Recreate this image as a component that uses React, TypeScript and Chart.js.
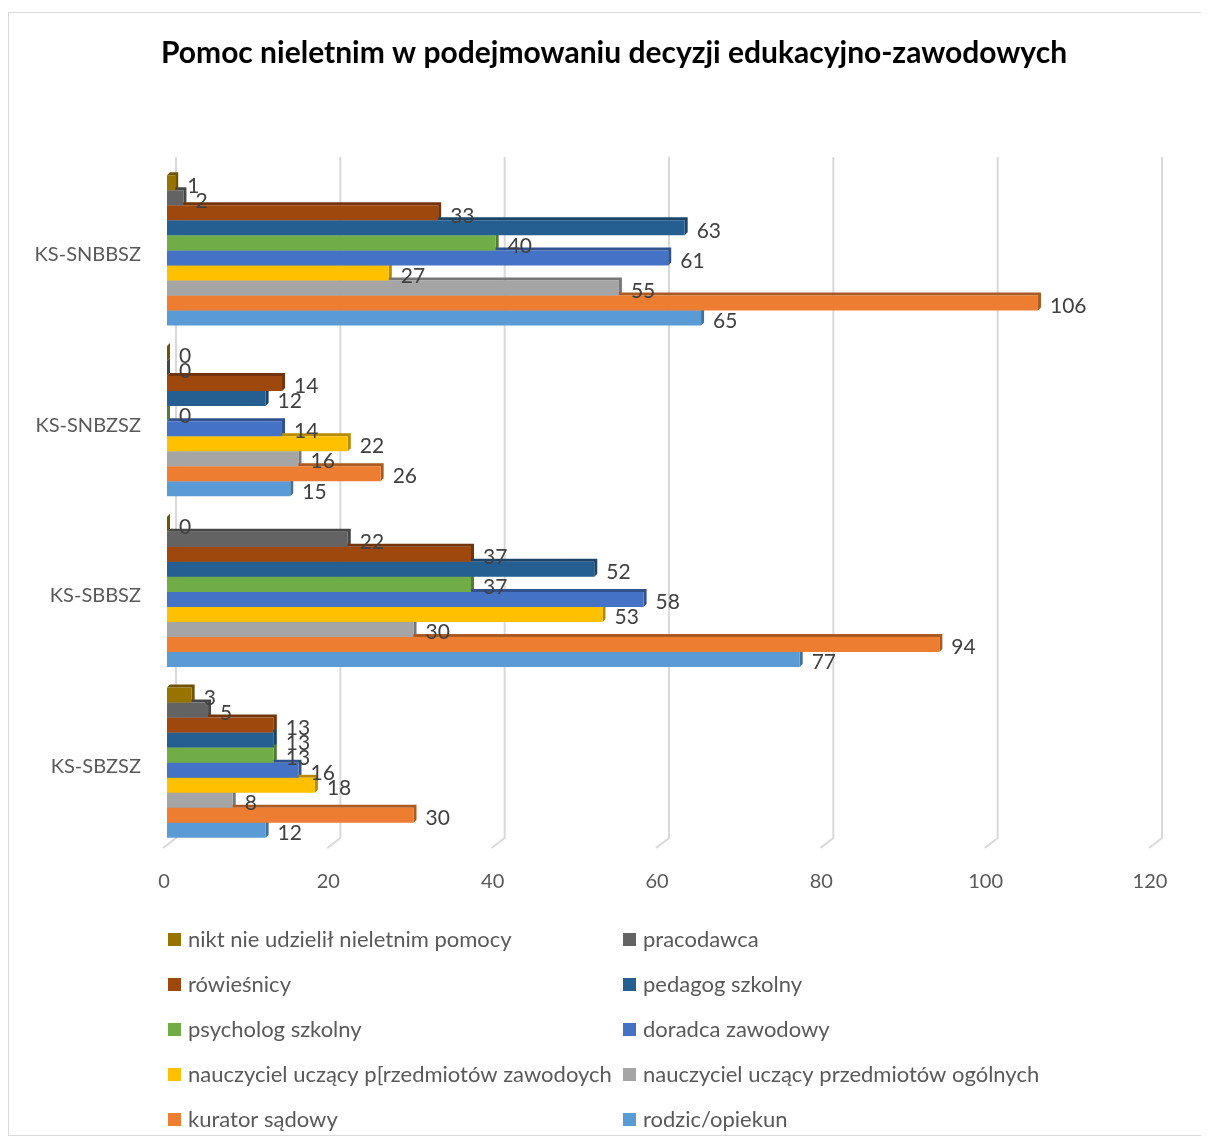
import React, { useEffect, useRef } from "react";
import { Chart, registerables } from "chart.js";

Chart.register(...registerables);

const TITLE = "Pomoc nieletnim w podejmowaniu decyzji edukacyjno-zawodowych";
const categories = ["KS-SNBBSZ", "KS-SNBZSZ", "KS-SBBSZ", "KS-SBZSZ"];
const seriesNames = [
  "nikt nie udzielił nieletnim pomocy",
  "pracodawca",
  "rówieśnicy",
  "pedagog szkolny",
  "psycholog szkolny",
  "doradca zawodowy",
  "nauczyciel uczący p[rzedmiotów zawodoych",
  "nauczyciel uczący przedmiotów ogólnych",
  "kurator sądowy",
  "rodzic/opiekun",
];
const seriesColors = [
  "#997300",
  "#636363",
  "#9e480e",
  "#255e91",
  "#70ad47",
  "#4472c4",
  "#ffc000",
  "#a5a5a5",
  "#ed7d31",
  "#5b9bd5",
];
const nikt = [1, 0, 0, 3];
const pracodawca = [2, 0, 22, 5];
const rowiesnicy = [33, 14, 37, 13];
const pedagog = [63, 12, 52, 13];
const psycholog = [40, 0, 37, 13];
const doradca = [61, 14, 58, 16];
const nauczycielZaw = [27, 22, 53, 18];
const nauczycielOgol = [55, 16, 30, 8];
const kurator = [106, 26, 94, 30];
const rodzic = [65, 15, 77, 12];
const seriesValues = [nikt, pracodawca, rowiesnicy, pedagog, psycholog, doradca, nauczycielZaw, nauczycielOgol, kurator, rodzic];
const xTicks = [0, 20, 40, 60, 80, 100, 120];

const FONT = "Lato, 'Open Sans', sans-serif";

function darken(hex: string, f: number) {
  const n = parseInt(hex.slice(1), 16);
  const r = Math.round(((n >> 16) & 255) * f);
  const g = Math.round(((n >> 8) & 255) * f);
  const b = Math.round((n & 255) * f);
  return `rgb(${r},${g},${b})`;
}

const floorPlugin = {
  id: "floor",
  beforeDatasetsDraw(chart: any) {
    const ctx = chart.ctx;
    const xs = chart.scales.x;
    const area = chart.chartArea;
    ctx.save();
    ctx.strokeStyle = "#d9d9d9";
    ctx.lineWidth = 2;
    xTicks.forEach((v) => {
      const x = xs.getPixelForValue(v);
      ctx.beginPath();
      ctx.moveTo(x + 9, area.top - 8);
      ctx.lineTo(x + 9, area.bottom - 10);
      ctx.lineTo(x - 4, area.bottom);
      ctx.stroke();
    });
    ctx.font = `20px ${FONT}`;
    ctx.fillStyle = "#595959";
    ctx.textAlign = "center";
    ctx.textBaseline = "middle";
    xTicks.forEach((v) => {
      const x = xs.getPixelForValue(v);
      ctx.fillText(String(v), x - 3, area.bottom + 34);
    });
    ctx.restore();
  },
};

const depthPlugin = {
  id: "depth",
  beforeDatasetsDraw(chart: any) {
    const ctx = chart.ctx;
    const d = 3;
    chart.data.datasets.forEach((ds: any, i: number) => {
      const meta = chart.getDatasetMeta(i);
      const col = darken(seriesColors[i], 0.72);
      meta.data.forEach((el: any) => {
        const p = el.getProps(["x", "y", "base", "height"], true);
        const top = p.y - p.height / 2;
        const bot = p.y + p.height / 2;
        ctx.save();
        ctx.fillStyle = col;
        ctx.beginPath();
        ctx.moveTo(p.base, top);
        ctx.lineTo(p.base + d, top - d);
        ctx.lineTo(p.x + d, top - d);
        ctx.lineTo(p.x + d, bot - d);
        ctx.lineTo(p.x, bot);
        ctx.lineTo(p.x, top);
        ctx.closePath();
        ctx.fill();
        ctx.restore();
      });
    });
  },
};

const labelPlugin = {
  id: "valueLabels",
  afterDatasetsDraw(chart: any) {
    const ctx = chart.ctx;
    ctx.save();
    ctx.font = `21px ${FONT}`;
    ctx.fillStyle = "#404040";
    ctx.textAlign = "left";
    ctx.textBaseline = "middle";
    chart.data.datasets.forEach((ds: any, i: number) => {
      const meta = chart.getDatasetMeta(i);
      meta.data.forEach((el: any, j: number) => {
        const p = el.getProps(["x", "y"], true);
        ctx.fillText(String(ds.data[j]), p.x + 12, p.y + 3);
      });
    });
    ctx.restore();
  },
};

const titleLegendPlugin = {
  id: "titleLegend",
  afterDraw(chart: any) {
    const ctx = chart.ctx;
    ctx.save();
    ctx.font = `bold 30px ${FONT}`;
    ctx.fillStyle = "#000000";
    ctx.textAlign = "center";
    ctx.textBaseline = "middle";
    ctx.fillText(TITLE, 605, 40);

    ctx.font = `22px ${FONT}`;
    ctx.textAlign = "left";
    chart.data.datasets.forEach((ds: any, i: number) => {
      const col = i % 2;
      const row = Math.floor(i / 2);
      const sx = col === 0 ? 159 : 614;
      const y = 927 + row * 45;
      ctx.fillStyle = ds.backgroundColor;
      ctx.fillRect(sx, y - 7, 13, 13);
      ctx.fillStyle = "#595959";
      ctx.fillText(ds.label, sx + 20, y);
    });
    ctx.restore();
  },
};

export default function App() {
  const ref = useRef<HTMLCanvasElement>(null);
  useEffect(() => {
    if (!ref.current) return;
    const chart = new Chart(ref.current, {
      type: "bar",
      data: {
        labels: categories,
        datasets: seriesNames.map((name, i) => ({
          label: name,
          data: seriesValues[i],
          backgroundColor: seriesColors[i],
          borderWidth: 0,
          barPercentage: 1,
          categoryPercentage: 0.88,
        })),
      },
      options: {
        indexAxis: "y",
        animation: false,
        responsive: true,
        maintainAspectRatio: false,
        layout: { padding: { left: 0, right: 53, top: 152, bottom: 287 } },
        plugins: {
          legend: { display: false },
          tooltip: { enabled: false },
          title: { display: false },
        },
        scales: {
          x: {
            display: false,
            min: 0,
            max: 120,
          },
          y: {
            afterFit: (s: any) => {
              s.width = 158;
            },
            grid: { display: false, drawTicks: false },
            border: { display: false },
            ticks: { color: "#595959", font: { family: FONT, size: 20 }, padding: 26, labelOffset: 4 },
          },
        },
      },
      plugins: [floorPlugin, depthPlugin, labelPlugin, titleLegendPlugin],
    } as any);
    return () => chart.destroy();
  }, []);
  return (
    <div
      style={{
        marginTop: 4,
        width: 1199,
        height: 1124,
        border: "1px solid #d9d9d9",
        boxSizing: "border-box",
        background: "#fff",
      }}
    >
      <div style={{ position: "relative", width: 1197, height: 1122 }}>
        <canvas ref={ref} />
      </div>
    </div>
  );
}
